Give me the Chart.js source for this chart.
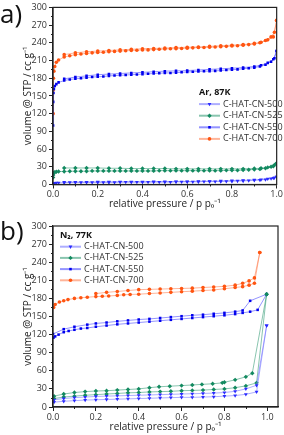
<!DOCTYPE html>
<html>
<head>
<meta charset="utf-8">
<script src="https://cdn.jsdelivr.net/npm/chart.js@4.4.0/dist/chart.umd.min.js"></script>
<style>
  html, body { margin: 0; padding: 0; background: #fff; }
  body { width: 284px; height: 435px; position: relative; overflow: hidden; font-family: 'Open Sans', sans-serif; }
  .painel { position: absolute; left: 0; width: 284px; }
  .letra { position: absolute; left: 0; font-size: 26px; line-height: 1; color: #111; }
</style>
</head>
<body>
<div class="painel" style="top:0;height:216px"><canvas id="chartAr"></canvas></div>
<div class="painel" style="top:216px;height:219px"><canvas id="chartN2"></canvas></div>
<div class="letra" style="top:0px">a)</div>
<div class="letra" style="top:217px">b)</div>
<script>
// Amostras (ordem da legenda)
const amostras = ['C-HAT-CN-500', 'C-HAT-CN-525', 'C-HAT-CN-550', 'C-HAT-CN-700'];

// ---- a) Ar, 87K : pressões comuns
const arAdsP = [0.0005, 0.001, 0.002, 0.004, 0.008, 0.015, 0.025, 0.05, 0.075, 0.1, 0.125, 0.15, 0.175, 0.2, 0.225, 0.25, 0.275, 0.3, 0.325, 0.35, 0.375, 0.4, 0.425, 0.45, 0.475, 0.5, 0.525, 0.55, 0.575, 0.6, 0.625, 0.65, 0.675, 0.7, 0.725, 0.75, 0.775, 0.8, 0.825, 0.85, 0.875, 0.9, 0.925, 0.95, 0.975, 0.99, 1.0];
const arDesP = [1.0, 0.985, 0.96, 0.93, 0.9, 0.85, 0.8, 0.75, 0.7, 0.65, 0.6, 0.55, 0.5, 0.45, 0.4, 0.35, 0.3, 0.25, 0.2, 0.15, 0.1, 0.05];

const ar500Ads = [0.5, 1, 1.5, 2, 2.5, 3, 3, 3, 3.5, 3.5, 3.5, 3.5, 3.5, 3.5, 3.5, 3.5, 3.5, 4, 4, 4, 4, 4, 4, 4, 4, 4, 4, 4.5, 4.5, 4.5, 4.5, 4.5, 5, 5, 5, 5, 5.5, 5.5, 6, 6, 6.5, 7, 7.5, 8.5, 10, 11.5, 13];
const ar500Des = [13, 11, 9.5, 8.5, 8, 7, 6.5, 6, 5.5, 5.5, 5, 5, 5, 5, 4.5, 4.5, 4.5, 4.5, 4.5, 4, 4, 4];
const ar525Ads = [12, 16, 19, 20, 21, 21.5, 22, 22, 22.5, 22.5, 22.5, 22.5, 23, 23, 23, 23, 23, 23, 23, 23, 23, 23, 23, 23, 23.5, 23.5, 23.5, 23.5, 23.5, 23.5, 23.5, 23.5, 23.5, 23.5, 23.5, 23.5, 24, 24, 24, 24.5, 25, 25.5, 26, 27.5, 30, 33, 36];
const ar525Des = [36, 31, 29, 27.5, 27, 26.5, 26.5, 26.5, 26.5, 26.5, 26.5, 26.5, 27, 27, 27, 27, 27.5, 27.5, 28, 28, 28, 28];
const ar550Ads = [100, 140, 155, 162, 167, 170, 173, 176, 178, 179, 180, 181, 182, 182.5, 183, 184, 184.5, 185, 185.5, 186, 186.5, 187, 187.5, 188, 188.5, 189, 189, 189.5, 190, 190.5, 191, 191.5, 192, 192, 192.5, 193, 194, 194.5, 195, 196, 197, 198, 200, 203, 208, 214, 226];
const ar550Des = [226, 212, 206, 202, 200, 198, 197, 196, 195, 194, 193, 192.5, 192, 191, 190, 189, 188, 187, 186, 184, 182, 179];
const ar700Ads = [120, 160, 180, 192, 200, 207, 211, 216, 218, 220, 221, 222, 223, 223.5, 224, 225, 225.5, 226, 226.5, 227, 227.5, 228, 228, 228.5, 229, 229.5, 230, 230, 230.5, 231, 231.5, 232, 232, 232.5, 233, 233.5, 234, 234.5, 235, 236, 237, 238, 240, 244, 250, 258, 278];
const ar700Des = [278, 250, 245, 241, 239, 237, 236, 235, 234, 233, 232.5, 232, 231, 230.5, 230, 229, 228, 227, 226, 225, 223, 220];

// ---- b) N2, 77K
const n2P500Ads = [0.005, 0.05, 0.1, 0.15, 0.2, 0.25, 0.3, 0.35, 0.4, 0.45, 0.5, 0.55, 0.6, 0.65, 0.7, 0.75, 0.8, 0.85, 0.9, 0.95, 0.997];
const n2V500Ads = [8, 9.5, 10.5, 11.5, 12, 12.5, 13, 13.5, 14, 14.5, 15, 15.5, 16, 16, 16.5, 17, 18, 19, 21, 25, 135];
const n2P500Des = [0.997, 0.95, 0.9, 0.85, 0.8, 0.75, 0.7, 0.65, 0.6, 0.55, 0.5, 0.45, 0.4, 0.35, 0.3, 0.25, 0.2, 0.15, 0.1, 0.05, 0.005];
const n2V500Des = [135, 36, 30, 26, 24, 23, 22.5, 22, 21.5, 21, 20.5, 20, 19.5, 19, 18.5, 18, 17.5, 16.5, 15.5, 14, 12];

const n2P525Ads = [0.005, 0.05, 0.1, 0.15, 0.2, 0.25, 0.3, 0.35, 0.4, 0.45, 0.5, 0.55, 0.6, 0.65, 0.7, 0.75, 0.8, 0.85, 0.9, 0.95, 0.997];
const n2V525Ads = [14, 16.5, 18, 19.5, 20.5, 21.5, 22.5, 23.5, 24, 25, 25.5, 26, 27, 27.5, 28, 29, 30, 32, 35, 40, 187];
const n2P525Des = [0.997, 0.93, 0.9, 0.85, 0.8, 0.79, 0.745, 0.695, 0.65, 0.6, 0.545, 0.495, 0.45, 0.4, 0.35, 0.3, 0.25, 0.2, 0.15, 0.1, 0.05, 0.005];
const n2V525Des = [187, 56, 50, 45, 41, 40, 38.5, 37.5, 36.5, 35.5, 34.5, 33.5, 32, 30, 29, 28, 27, 26.5, 25.5, 24, 21.5, 18];

const n2P550Ads = [0.002, 0.01, 0.026, 0.05, 0.073, 0.1, 0.13, 0.16, 0.2, 0.25, 0.3, 0.35, 0.4, 0.45, 0.5, 0.55, 0.6, 0.65, 0.7, 0.75, 0.8, 0.85, 0.885, 0.92, 0.955, 0.997];
const n2V550Ads = [115, 117, 120, 124, 126, 128, 130, 131, 133, 135, 137, 138.5, 140, 141.5, 143, 144.5, 146, 147.5, 149, 150.5, 152, 154, 156, 158, 161, 187];
const n2P550Des = [0.997, 0.92, 0.885, 0.85, 0.8, 0.75, 0.7, 0.65, 0.6, 0.55, 0.5, 0.45, 0.4, 0.35, 0.3, 0.25, 0.2, 0.16, 0.1, 0.05, 0.0];
const n2V550Des = [187, 176, 160, 158, 156, 154.5, 153, 152, 150.5, 149, 147.5, 146, 145, 143.5, 142, 140, 138.5, 136.5, 133, 129, 121];

const n2P700Ads = [0.003, 0.01, 0.03, 0.05, 0.07, 0.1, 0.13, 0.16, 0.2, 0.23, 0.26, 0.3, 0.33, 0.36, 0.4, 0.45, 0.5, 0.55, 0.6, 0.65, 0.7, 0.75, 0.8, 0.85, 0.885, 0.915, 0.94, 0.965];
const n2V700Ads = [165, 170, 174, 176, 178, 180, 181, 182, 183, 183.5, 184, 185, 186, 186.5, 187, 188, 189, 190, 191, 192, 193, 194, 196, 198, 199.5, 202, 205, 256];
const n2P700Des = [0.965, 0.94, 0.915, 0.885, 0.85, 0.8, 0.75, 0.7, 0.65, 0.6, 0.55, 0.5, 0.45, 0.4, 0.35, 0.3, 0.25, 0.2];
const n2V700Des = [256, 214, 209, 205, 202, 200, 199, 198, 197, 196.5, 196, 195.5, 195, 194.5, 193, 191.5, 190, 188];

// Estilo de cada amostra
const estilos = [
  { linha: 'rgba(120,120,255,0.6)', cor: '#2a2aff', forma: 'triangle', rot: 180, r: 2.2 },
  { linha: 'rgba(40,150,110,0.55)', cor: '#138a60', forma: 'rectRot',  rot: 0,   r: 2.2 },
  { linha: 'rgba(60,60,255,0.55)',  cor: '#0000ee', forma: 'rect',     rot: 0,   r: 1.8 },
  { linha: 'rgba(255,130,85,0.6)',  cor: '#ff5511', forma: 'circle',   rot: 0,   r: 1.8 }
];

function pontos(p, v) { return p.map((x, i) => ({ x: x, y: v[i] })); }

function conjunto(i, dados) {
  const e = estilos[i];
  return {
    label: amostras[i],
    data: dados,
    showLine: true,
    borderColor: e.linha,
    borderWidth: 1,
    backgroundColor: e.cor,
    pointBackgroundColor: e.cor,
    pointBorderWidth: 0,
    pointStyle: e.forma,
    pointRotation: e.rot,
    pointRadius: e.r,
    tension: 0
  };
}

// Moldura, ticks menores e legenda
const moldura = {
  id: 'moldura',
  afterDraw(chart, args, opts) {
    const { ctx, chartArea: a, scales } = chart;
    ctx.save();
    ctx.strokeStyle = '#222';
    ctx.lineWidth = 1;
    ctx.beginPath();
    scales.x.ticks.forEach(t => {
      if (Math.round(t.value * 10) % 2) {
        const px = Math.round(scales.x.getPixelForValue(t.value)) + 0.5;
        ctx.moveTo(px, a.bottom); ctx.lineTo(px, a.bottom + 2);
      }
    });
    scales.y.ticks.forEach(t => {
      if (t.value % 30) {
        const py = Math.round(scales.y.getPixelForValue(t.value)) + 0.5;
        ctx.moveTo(a.left, py); ctx.lineTo(a.left - 2, py);
      }
    });
    ctx.stroke();
    ctx.lineWidth = 1.2;
    ctx.strokeRect(a.left, a.top, a.right - a.left, a.bottom - a.top);

    // legenda
    ctx.textBaseline = 'middle';
    ctx.textAlign = 'left';
    ctx.fillStyle = '#111';
    ctx.font = 'bold 9px "Open Sans"';
    ctx.fillText(opts.titulo, opts.x, opts.y);
    ctx.font = '9px "Open Sans"';
    chart.data.datasets.forEach((ds, i) => {
      const y = opts.y + opts.passo * (i + 1) + 0.5;
      const e = estilos[i];
      ctx.strokeStyle = e.linha;
      ctx.lineWidth = 2;
      ctx.beginPath(); ctx.moveTo(opts.x, y); ctx.lineTo(opts.x + 21, y); ctx.stroke();
      ctx.fillStyle = e.cor;
      Chart.helpers.drawPoint(ctx, { pointStyle: e.forma, rotation: e.rot, radius: e.r, borderWidth: 0 }, opts.x + 10.5, y);
      ctx.fillStyle = '#333';
      ctx.fillText(ds.label, opts.x + 24, y);
    });
    ctx.restore();
  }
};

function opcoes(cfg) {
  return {
    responsive: true,
    maintainAspectRatio: false,
    animation: false,
    layout: { padding: { left: 18, top: cfg.topo, right: cfg.direita, bottom: cfg.base } },
    plugins: { legend: { display: false }, tooltip: { enabled: false }, moldura: cfg.legenda },
    scales: {
      x: {
        type: 'linear', min: 0, max: cfg.xMax,
        afterFit: s => { s.height = cfg.altX; },
        ticks: {
          stepSize: 0.1, includeBounds: false, autoSkip: false, maxRotation: 0, padding: 1,
          color: '#333', font: { size: 9 },
          callback: v => (Math.round(v * 10) % 2 ? '' : v.toFixed(1))
        },
        grid: { drawOnChartArea: false, tickLength: 4, tickColor: c => (Math.round(c.tick.value * 10) % 2 ? 'rgba(0,0,0,0)' : '#222') },
        border: { color: '#222', width: 1.2 },
        title: { display: true, text: 'relative pressure / p p₀⁻¹', color: '#222', font: { size: 10 }, padding: { top: 0, bottom: 0 } }
      },
      y: {
        min: 0, max: 300,
        afterFit: s => { s.width = 35; },
        ticks: { stepSize: 15, autoSkip: false, padding: 2, color: '#333', font: { size: 9 }, callback: v => (v % 30 ? '' : v) },
        grid: { drawOnChartArea: false, tickLength: 4, tickColor: c => (c.tick.value % 30 ? 'rgba(0,0,0,0)' : '#222') },
        border: { color: '#222', width: 1.2 },
        title: { display: true, text: 'volume @ STP / cc g⁻¹', color: '#222', font: { size: 10 }, padding: { top: 4, bottom: 0 } }
      }
    }
  };
}

Chart.defaults.font.family = "'Open Sans', sans-serif";

// Gráfico a) Ar
new Chart(document.getElementById('chartAr').getContext('2d'), {
  type: 'scatter',
  data: { datasets: [
    conjunto(0, pontos(arAdsP, ar500Ads).concat(pontos(arDesP, ar500Des))),
    conjunto(1, pontos(arAdsP, ar525Ads).concat(pontos(arDesP, ar525Des))),
    conjunto(2, pontos(arAdsP, ar550Ads).concat(pontos(arDesP, ar550Des))),
    conjunto(3, pontos(arAdsP, ar700Ads).concat(pontos(arDesP, ar700Des)))
  ]},
  options: opcoes({ topo: 5, direita: 7, base: 6, altX: 25.5, xMax: 1.0,
    legenda: { titulo: 'Ar, 87K', x: 199, y: 92, passo: 11.6 } }),
  plugins: [moldura]
});

// Gráfico b) N2
new Chart(document.getElementById('chartN2').getContext('2d'), {
  type: 'scatter',
  data: { datasets: [
    conjunto(0, pontos(n2P500Ads, n2V500Ads).concat(pontos(n2P500Des, n2V500Des))),
    conjunto(1, pontos(n2P525Ads, n2V525Ads).concat(pontos(n2P525Des, n2V525Des))),
    conjunto(2, pontos(n2P550Ads, n2V550Ads).concat(pontos(n2P550Des, n2V550Des))),
    conjunto(3, pontos(n2P700Ads, n2V700Ads).concat(pontos(n2P700Des, n2V700Des)))
  ]},
  options: opcoes({ topo: 10, direita: 6, base: 2, altX: 26, xMax: 1.05,
    legenda: { titulo: 'N₂, 77K', x: 60, y: 19, passo: 11.2 } }),
  plugins: [moldura]
});
</script>
</body>
</html>
